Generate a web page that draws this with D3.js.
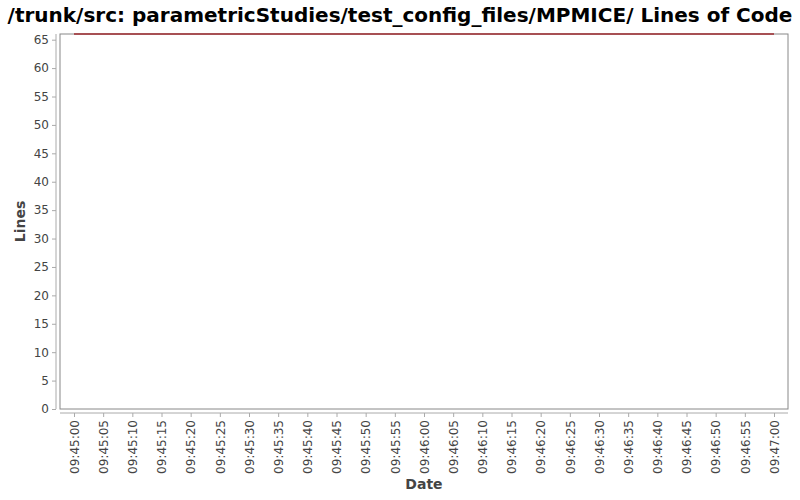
<!DOCTYPE html>
<html>
<head>
<meta charset="utf-8">
<script src="https://cdn.jsdelivr.net/npm/d3@7"></script>
<style>
body { margin: 0; background: #fff; }
text { font-family: "DejaVu Sans", sans-serif; }
</style>
</head>
<body>
<svg id="chart" width="800" height="500"></svg>
<script>
// data
var times = ["09:45:00", "09:47:00"];
var lines = [66, 66];
var yTicks = [0, 5, 10, 15, 20, 25, 30, 35, 40, 45, 50, 55, 60, 65];

var parse = d3.timeParse("%H:%M:%S");
var data = times.map(function(t, i) { return { date: parse(t), value: lines[i] }; });

var svg = d3.select("#chart");
var plotL = 60, plotR = 788, plotT = 34, plotB = 409;

// 2% margin each side, like the original
var t0 = data[0].date, t1 = data[data.length - 1].date;
var pad = (t1 - t0) * 0.02;
var x = d3.scaleTime()
  .domain([new Date(+t0 - pad), new Date(+t1 + pad)])
  .range([plotL, plotR]);
var y = d3.scaleLinear().domain([0, 66]).range([plotB, plotT]);

svg.append("text")
  .attr("x", 400).attr("y", 22)
  .attr("text-anchor", "middle")
  .attr("font-size", 20).attr("font-weight", "bold")
  .attr("fill", "#000")
  .text("/trunk/src: parametricStudies/test_config_files/MPMICE/ Lines of Code");

// plot background
svg.append("rect")
  .attr("x", plotL).attr("y", plotT)
  .attr("width", plotR - plotL).attr("height", plotB - plotT)
  .attr("fill", "#fff").attr("stroke", "#888").attr("stroke-width", 1);

// y axis
var yAxis = svg.append("g")
  .attr("transform", "translate(" + (plotL - 4) + ",0)")
  .call(d3.axisLeft(y).tickValues(yTicks).tickSize(4).tickPadding(3));
yAxis.select(".domain").attr("stroke", "#aaa").attr("d", "M0," + plotT + "V" + plotB);
yAxis.selectAll(".tick line").attr("stroke", "#aaa");
yAxis.selectAll("text").attr("font-size", 12).attr("fill", "#444")
  .attr("font-family", "DejaVu Sans, sans-serif");

// x axis
var xTicks = d3.timeSecond.every(5).range(t0, new Date(+t1 + 1));
var xAxis = svg.append("g")
  .attr("transform", "translate(0," + (plotB + 4) + ")")
  .call(d3.axisBottom(x).tickValues(xTicks).tickFormat(d3.timeFormat("%H:%M:%S")).tickSize(4));
xAxis.select(".domain").attr("stroke", "#aaa").attr("d", "M" + plotL + ",0H" + plotR);
xAxis.selectAll(".tick line").attr("stroke", "#aaa");
xAxis.selectAll("text")
  .attr("font-size", 12).attr("fill", "#444")
  .attr("font-family", "DejaVu Sans, sans-serif")
  .attr("text-anchor", "end")
  .attr("transform", "rotate(-90)")
  .attr("x", -7).attr("y", 0).attr("dy", "0.35em");

// axis labels
svg.append("text")
  .attr("transform", "translate(25," + ((plotT + plotB) / 2) + ") rotate(-90)")
  .attr("text-anchor", "middle")
  .attr("font-size", 14).attr("font-weight", "bold").attr("fill", "#444")
  .text("Lines");
svg.append("text")
  .attr("x", (plotL + plotR) / 2).attr("y", 489)
  .attr("text-anchor", "middle")
  .attr("font-size", 14).attr("font-weight", "bold").attr("fill", "#444")
  .text("Date");

// the series
var line = d3.line()
  .x(function(d) { return x(d.date); })
  .y(function(d) { return y(d.value); });
svg.append("path")
  .datum(data)
  .attr("fill", "none")
  .attr("stroke", "#9e2a2f")
  .attr("stroke-width", 1.5)
  .attr("d", line);
</script>
</body>
</html>
